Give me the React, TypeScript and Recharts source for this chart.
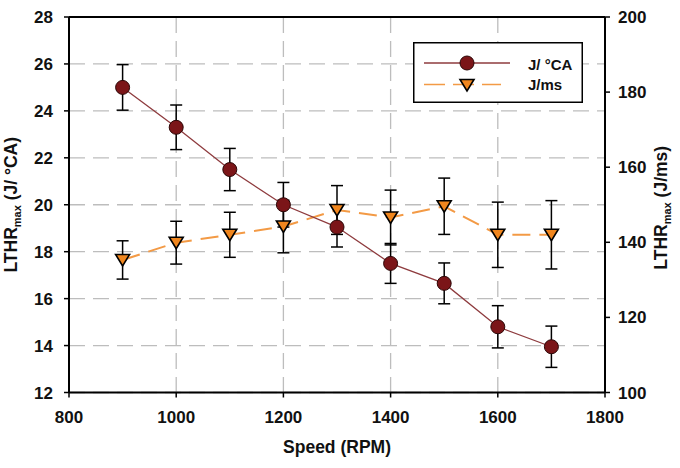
import {
  ComposedChart,
  Line,
  XAxis,
  YAxis,
  CartesianGrid,
  ErrorBar,
  ReferenceLine,
  Legend,
  Label,
} from "recharts";

const speeds = [900, 1000, 1100, 1200, 1300, 1400, 1500, 1600, 1700];
const perDegree = [25.0, 23.3, 21.5, 20.0, 19.05, 17.5, 16.65, 14.8, 13.95];
const perDegreeErr = [0.97, 0.95, 0.9, 0.95, 0.85, 0.85, 0.87, 0.9, 0.88];
const perMs = [135.3, 139.9, 142.0, 144.2, 148.6, 146.6, 149.6, 142.0, 142.0];
const perMsErr = [5.1, 5.7, 6.0, 7.0, 6.5, 7.3, 7.5, 8.7, 9.1];

const speedTicks = [800, 1000, 1200, 1400, 1600, 1800];
const leftTicks = [12, 14, 16, 18, 20, 22, 24, 26, 28];
const rightTicks = [100, 120, 140, 160, 180, 200];

const rows = speeds.map((speed, i) => ({
  speed,
  perDegree: perDegree[i],
  perDegreeErr: perDegreeErr[i],
  perMs: perMs[i],
  perMsErr: perMsErr[i],
}));

const FONT = "'Liberation Sans', Arial, Helvetica, sans-serif";
const INK = "#111";
const MAROON = "#7b1518";
const MAROON_LINE = "#8e3b3e";
const ORANGE = "#f0861e";
const ORANGE_LINE = "#f39a45";

const tickStyle = { fill: INK, fontSize: 17, fontWeight: 700, fontFamily: FONT };

const circleMarker = (cx: number, cy: number, key?: string) => (
  <circle key={key} cx={cx} cy={cy} r={7} fill={MAROON} stroke="#2b0606" strokeWidth={1} />
);

const triangleMarker = (cx: number, cy: number, key?: string) => (
  <path
    key={key}
    d={`M${cx - 7},${cy - 5.5}L${cx + 7},${cy - 5.5}L${cx},${cy + 6}Z`}
    fill={ORANGE}
    stroke="#000"
    strokeWidth={1.6}
  />
);

const CircleDot = (p: any) => circleMarker(p.cx, p.cy, `c-${p.index}`);
const TriangleDot = (p: any) => triangleMarker(p.cx, p.cy, `t-${p.index}`);

const LegendBox = () => (
  <svg width={170} height={61} style={{ display: "block" }}>
    <rect x={0.75} y={0.75} width={168.5} height={59.5} fill="#fff" stroke="#000" strokeWidth={1.5} />
    <line x1={11} x2={97} y1={21} y2={21} stroke={MAROON_LINE} strokeWidth={1.3} />
    {circleMarker(54, 21)}
    <text x={115} y={28} fontFamily={FONT} fontSize={15} fontWeight={700} fill={INK}>
      J/ °CA
    </text>
    <line x1={11} x2={88} y1={42.5} y2={42.5} stroke={ORANGE_LINE} strokeWidth={1.6} strokeDasharray="21 8" />
    {triangleMarker(54, 43)}
    <text x={115} y={48} fontFamily={FONT} fontSize={15} fontWeight={700} fill={INK}>
      J/ms
    </text>
  </svg>
);

// rotated axis title with a "max" subscript after LTHR
const AxisTitle = ({ x, y, unit }: { x: number; y: number; unit: string }) => (
  <text
    x={x}
    y={y}
    transform={`rotate(-90 ${x} ${y})`}
    textAnchor="middle"
    fontFamily={FONT}
    fontSize={17.5}
    fontWeight={700}
    fill={INK}
  >
    <tspan>LTHR</tspan>
    <tspan fontSize={11} dy={4}>max</tspan>
    <tspan dy={-4}>{` (${unit})`}</tspan>
  </text>
);

export default function App() {
  return (
    <div style={{ position: "absolute", left: 0, top: 0, background: "#fff" }}>
      <ComposedChart
        width={680}
        height={468}
        data={rows}
        margin={{ top: 17, right: 0, bottom: 35.5, left: 0 }}
      >
        <CartesianGrid
          yAxisId="left"
          stroke="#bdbdbd"
          strokeWidth={1.3}
          strokeDasharray="16 8"
        />
        <XAxis
          dataKey="speed"
          type="number"
          domain={[800, 1800]}
          ticks={speedTicks}
          height={40}
          tick={tickStyle}
          tickSize={5}
          tickMargin={13}
          axisLine={{ stroke: "#000", strokeWidth: 2 }}
          tickLine={{ stroke: "#000", strokeWidth: 1.5 }}
        >
          <Label
            content={({ viewBox }: any) => (
              <text
                x={viewBox.x + viewBox.width / 2}
                y={viewBox.y + 60.5}
                textAnchor="middle"
                fontFamily={FONT}
                fontSize={17.5}
                fontWeight={700}
                fill={INK}
              >
                Speed (RPM)
              </text>
            )}
          />
        </XAxis>
        <YAxis
          yAxisId="left"
          domain={[12, 28]}
          ticks={leftTicks}
          width={69}
          tick={tickStyle}
          tickSize={5}
          tickMargin={11}
          axisLine={{ stroke: "#000", strokeWidth: 2 }}
          tickLine={{ stroke: "#000", strokeWidth: 1.5 }}
        >
          <Label
            content={({ viewBox }: any) => (
              <AxisTitle x={viewBox.x + 17} y={viewBox.y + viewBox.height / 2} unit="J/ °CA" />
            )}
          />
        </YAxis>
        <YAxis
          yAxisId="right"
          orientation="right"
          domain={[100, 200]}
          ticks={rightTicks}
          width={75}
          tick={tickStyle}
          tickSize={5}
          tickMargin={8}
          axisLine={{ stroke: "#000", strokeWidth: 2 }}
          tickLine={{ stroke: "#000", strokeWidth: 1.5 }}
        >
          <Label
            content={({ viewBox }: any) => (
              <AxisTitle x={viewBox.x + 62} y={viewBox.y + viewBox.height / 2 + 3} unit="J/ms" />
            )}
          />
        </YAxis>
        <ReferenceLine yAxisId="left" y={28} stroke="#000" strokeWidth={2} />

        {/* error bars go underneath both series' markers */}
        <Line
          yAxisId="right"
          dataKey="perMs"
          stroke="none"
          dot={false}
          activeDot={false}
          legendType="none"
          isAnimationActive={false}
        >
          <ErrorBar dataKey="perMsErr" direction="y" width={6} stroke="#000" strokeWidth={1.5} isAnimationActive={false} />
        </Line>
        <Line
          yAxisId="left"
          dataKey="perDegree"
          stroke="none"
          dot={false}
          activeDot={false}
          legendType="none"
          isAnimationActive={false}
        >
          <ErrorBar dataKey="perDegreeErr" direction="y" width={6} stroke="#000" strokeWidth={1.5} isAnimationActive={false} />
        </Line>

        <Line
          yAxisId="right"
          dataKey="perMs"
          name="J/ms"
          type="linear"
          stroke={ORANGE_LINE}
          strokeWidth={2}
          strokeDasharray="18 9"
          dot={TriangleDot}
          activeDot={false}
          isAnimationActive={false}
        />
        <Line
          yAxisId="left"
          dataKey="perDegree"
          name="J/ °CA"
          type="linear"
          stroke={MAROON_LINE}
          strokeWidth={1.3}
          dot={CircleDot}
          activeDot={false}
          isAnimationActive={false}
        />
        <Legend
          layout="vertical"
          align="center"
          verticalAlign="middle"
          content={() => <LegendBox />}
          wrapperStyle={{ left: 413, top: 42, width: 170, height: 61 }}
        />
      </ComposedChart>
    </div>
  );
}
